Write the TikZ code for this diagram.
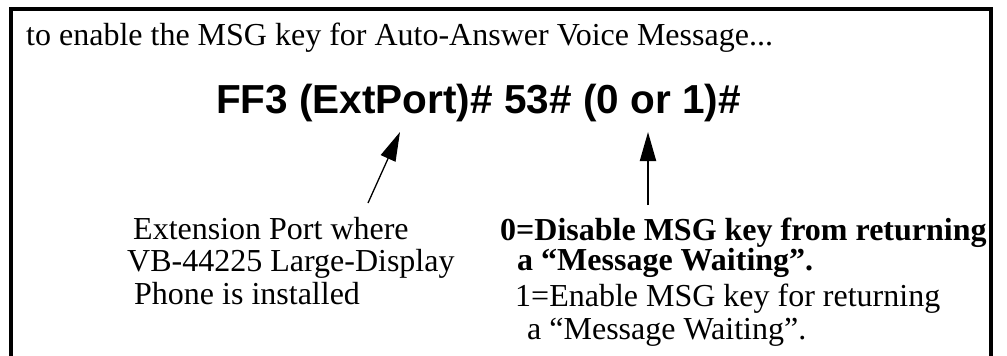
\documentclass[tikz,border=0pt]{standalone}
\usepackage{fontspec}
\setmainfont{Liberation Serif}
\newfontfamily\codefont{Liberation Sans}
\usetikzlibrary{arrows.meta, positioning}

\begin{document}
\begin{tikzpicture}[x=1pt, y=-1pt,
    note/.style={align=left, inner sep=0pt, anchor=north west, font=\fontsize{32}{32.5}\selectfont},
    pointer/.style={-{Triangle[length=29pt, width=16pt]}}]
  \useasboundingbox (0,0) rectangle (1007,356);
  % open frame
  \draw[line width=4pt] (11,356) -- (11,9) -- (991,9) -- (991,356);
  \node[anchor=base west, inner sep=0pt, font=\fontsize{32}{32}\selectfont] (intro) at (26,45) {to enable the MSG key for Auto-Answer Voice Message...};
  \node[anchor=base west, inner sep=0pt, font=\codefont\bfseries\fontsize{40.5}{40}\selectfont] (code) at (216,113) {FF3 (ExtPort)\# 53\# (0 or 1)\#};
  % explanations
  \node[note] (port) at (127,217) {\hspace{6pt}Extension Port where\\VB-44225 Large-Display\\\hspace{7pt}Phone is installed};
  \node[note, font=\bfseries\fontsize{32}{27}\selectfont] (disable) at (500,218) {0=Disable MSG key from returning\\\hspace{17pt}a “Message Waiting”.};
  \node[note, font=\fontsize{32}{33}\selectfont] (enable) at (515,284) {1=Enable MSG key for returning\\\hspace{12pt}a “Message Waiting”.};
  \coordinate (porttail) at (368,203);
  \coordinate (porthead) at (400,132);
  \coordinate (bittail) at (648,205);
  \coordinate (bithead) at (648,132);
  \draw[pointer, line width=1.3pt] (porttail) -- (porthead);
  \draw[pointer, line width=2pt] (bittail) -- (bithead);
\end{tikzpicture}
\end{document}
